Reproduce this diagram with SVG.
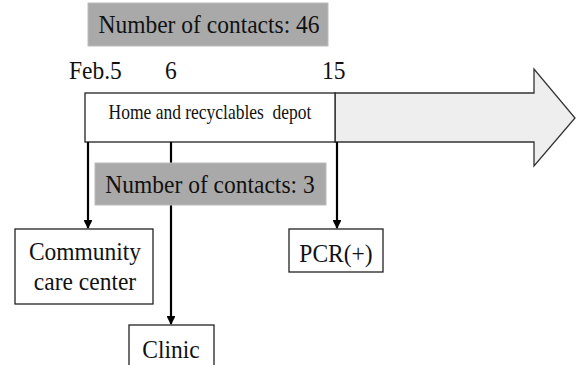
<svg xmlns="http://www.w3.org/2000/svg" width="576" height="365" viewBox="0 0 576 365">
<style>
text{font-family:'Liberation Serif','Times New Roman',Tinos,'DejaVu Serif',serif;fill:#111}
.big{font-size:23.5px}
.box{fill:#fff;stroke:#222;stroke-width:1.3}
.gray{fill:#a9a9a9;stroke:#bbb;stroke-width:1}
.conn{stroke:#000;stroke-width:2.2;fill:none}
</style>
<defs>
<marker id="ah" viewBox="0 0 10 10" refX="9" refY="5" markerWidth="4" markerHeight="4" orient="auto" markerUnits="strokeWidth">
<path d="M0,0L10,5L0,10z" fill="#000"/>
</marker>
</defs>
<rect width="576" height="365" fill="#fff"/>
<g id="timeline-arrow">
<path d="M335,93H534V69L575,118L534,166V142H335Z" fill="#eeeeee" stroke="#333" stroke-width="1.3"/>
</g>
<g id="home">
<rect class="box" x="85" y="93" width="250" height="49"/>
<text transform="translate(210,119) scale(1,1.2)" font-size="17.5" text-anchor="middle" xml:space="preserve">Home and recyclables  depot</text>
</g>
<g id="dates">
<text class="big" transform="translate(69,79) scale(1,1.1)">Feb.5</text>
<text class="big" transform="translate(165,79) scale(1,1.1)">6</text>
<text class="big" transform="translate(322,79) scale(1,1.1)">15</text>
</g>
<g id="connectors">
<line class="conn" x1="88" y1="142" x2="88" y2="228" marker-end="url(#ah)"/>
<line class="conn" x1="171" y1="142" x2="171" y2="324" marker-end="url(#ah)"/>
<line class="conn" x1="337" y1="142" x2="337" y2="228" marker-end="url(#ah)"/>
</g>
<g id="contacts46">
<rect class="gray" x="88" y="3" width="240" height="43"/>
<text class="big" transform="translate(209,33) scale(1,1.1)" text-anchor="middle">Number of contacts: 46</text>
</g>
<g id="contacts3">
<rect class="gray" x="95" y="163" width="231" height="42"/>
<text class="big" transform="translate(210,193) scale(1,1.1)" text-anchor="middle">Number of contacts: 3</text>
</g>
<g id="community">
<rect class="box" x="15" y="229" width="138" height="75"/>
<text class="big" transform="translate(85,260) scale(1,1.1)" text-anchor="middle">Community</text>
<text class="big" transform="translate(85,290) scale(1,1.1)" text-anchor="middle">care center</text>
</g>
<g id="pcr">
<rect class="box" x="289" y="229" width="94" height="43"/>
<text class="big" transform="translate(336,262) scale(1,1.1)" text-anchor="middle">PCR(+)</text>
</g>
<g id="clinic">
<rect class="box" x="129" y="325" width="85" height="50"/>
<text class="big" transform="translate(171,358) scale(1,1.1)" text-anchor="middle">Clinic</text>
</g>
</svg>
